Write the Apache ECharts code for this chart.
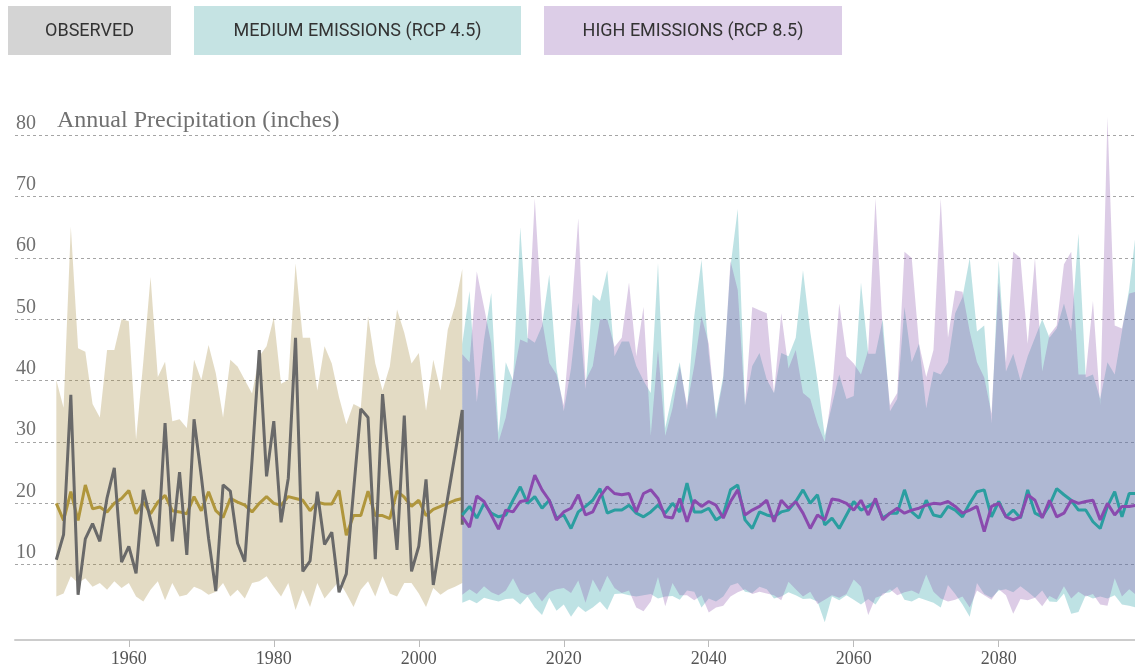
<!DOCTYPE html>
<html>
<head>
<meta charset="utf-8">
<script src="https://cdn.jsdelivr.net/npm/echarts@6/dist/echarts.min.js"></script>
<style>
html, body { margin: 0; padding: 0; background: #fff; }
#chart { width: 1135px; height: 670px; }
</style>
</head>
<body>
<div id="chart"></div>
<script>
// years
var histStart = 1950, histEnd = 2006;
var projStart = 2006, projEnd = 2099;
var xTicks = [1960, 1980, 2000, 2020, 2040, 2060, 2080];
var legendNames = ['OBSERVED', 'MEDIUM EMISSIONS (RCP 4.5)', 'HIGH EMISSIONS (RCP 8.5)'];

// observed + modeled history, 1950-2006
var observed = [10.8,14.9,37.7,5.1,14.2,16.7,13.8,20.9,25.8,10.4,
  13,8.6,22.2,17.3,13,33.1,13.8,25.1,11.6,33.7,
  24.4,14.3,5.7,23,22,13.5,10.5,27,45,24.4,
  33.4,16.9,24.1,47,8.9,10.6,21.9,13.3,15.3,5.5,
  8.5,22,35.4,34,10.9,37.8,24.6,12.4,34.3,8.9,
  13,23.9,6.7,14,21,28,35.2];
var observedLast = 16.5;   // drop drawn at the end of the record
var histMedian = [20,17.2,21.9,17.2,23,19.1,19.4,18.6,20,20.8,
  22.1,18.3,20.2,18.3,20.2,21.3,18.8,18.6,18.3,21.1,
  18.8,21.9,18.8,17.7,20.8,20.2,19.7,18.6,20,21.1,
  20,19.7,21.1,20.8,20.5,18.8,20.2,19.9,19.9,22.1,
  14.8,18,18,22,18,18,17.5,22,21,19.5,
  20.5,18,19,19.5,20,20.5,20.8];
var histMax = [40.1,35.6,65.1,45.3,44.7,36.2,34,45,45,50,
  49.7,30.4,43.1,56.9,40.6,43.1,33.4,33.7,32.3,43.4,
  40.1,45.8,41.2,34,43.4,42.3,40.1,37.9,44,45.6,
  50.3,39.5,40.1,59.1,47,47,38.4,45.6,42.8,37.3,
  32.9,36.2,35.6,50.5,42.8,38.4,42.3,51.6,47.8,42.8,
  44.5,35.1,43.4,38.4,48.3,52.2,58.2];
var histMin = [4.8,5.3,8.1,7,7.8,6.4,7,5.9,7.3,6.2,
  7,4.8,4,5.9,7.3,4.2,7,4.8,5.1,6.4,
  5.9,5.1,5.6,7,4.8,5.9,4.5,7,7.3,8.1,
  6.4,4.8,7,2.6,5.9,3.1,7,4.5,5.9,7.3,
  5.3,3.1,5.9,7.3,4.8,8.1,5.3,4.8,7,7,
  5.3,3.1,6.2,5.1,5.9,6.4,7];

// projections, 2006-2099
var rcp45Median = [18.1,19.5,17.6,20,18.4,17.8,18.1,20.5,22.7,20,
  21.1,19.2,20.5,17.6,18.1,15.9,18.6,19.5,20.5,22.4,
  18.4,18.9,18.9,19.7,18.4,17.8,18.6,19.7,18.4,20,
  18.6,23.3,18.6,18.6,19.2,17.3,18.1,22.2,23,17.3,
  15.9,18.6,18.1,17.8,
  18.6,18.9,20.3,22.2,20,21.4,16.5,17.6,15.9,18.1,
  20.3,18.9,19.5,20.3,17.6,18.4,18.4,22.2,18.6,17.6,
  20.5,18.1,17.8,19.5,18.9,17.8,20,21.9,22.2,17.8,
  20.3,17.8,18.9,17.6,22.2,18.4,17.8,19.7,22.4,21.4,
  20.5,18.9,18.9,17,15.9,19.5,21.9,17.8,21.6,21.6];
var rcp85Median = [17.8,16.1,21.2,20.3,18.1,15.8,18.9,18.6,20.3,20.5,
  24.6,22.2,20.5,17.3,18.6,19.2,21.4,18.1,18.6,21.1,
  22.7,21.6,21.4,21.6,18.6,21.6,22.2,20.8,17.8,17.6,
  20.8,17,20.5,19.5,20.3,19.7,17.6,20.3,22.2,18.1,
  18.9,19.5,20.5,17,
  20.5,19.2,20.3,18.4,15.9,18.1,17.3,20.7,20.5,20,
  18.9,20.5,18.1,20.8,17.3,18.4,19.2,18.4,18.9,19.2,
  19.7,20,19.9,20.3,19.5,18.4,18.9,19.5,15.4,19.5,
  20,17.8,17.3,17.8,21.4,20.5,17.6,20.5,17.8,18.4,
  20.5,20,20.3,20.5,17.3,20,18.1,19.5,19.5,19.7];
var rcp45Max = [46,54.6,36.5,46.7,54.3,31.5,43,40,65,47,
  46.2,48.9,57.3,42,35,42,52.7,38.6,54,53,
  58,44,46.4,46.4,42.4,40,38,59.2,32.3,38,
  43,35.3,50.5,59.7,44.4,34.5,40.7,58.6,68,36,
  42.4,44.5,40.2,38,44.5,
  44,47,58,48,40,31,36,41,37,37.5,
  56,44.4,44.4,50,35,37,52,43,46,35.5,
  41.5,41,43,51,53.6,60,48,49,33,59.6,
  41.5,44.4,40,44,47,50,47,48.5,52.6,48,
  64,40.5,41,37,43,41,48,55,65];
var rcp85Max = [44.3,43,57.8,52,46,30,34,40.5,46.7,46.2,
  69.7,50,42.9,41,36,50,66.5,40,42.4,50,
  50,45.5,47,56,44,52,31,45,31,35.5,
  42.4,36,42.4,50.5,46,33.7,40.2,59.5,54.8,35.9,
  52,51.5,51,37.9,51,
  42,45,38,37,33,30,38,52.6,44,42.8,
  41,45,69.7,48,36,38,61,60,46,40.6,
  45,69.7,47,54.7,54.5,48,43,40.5,34.6,56,
  43,61,60,46,60,41.5,47.5,49,59,61,
  41,41,53,36,83,49,48.5,54.2,54.5];
var rcp45Min = [3.8,4.3,3.7,4.6,4.3,4.0,4.4,4.5,3.5,4.8,
  3.0,1.8,4.6,2.5,3.5,1.5,3.2,2.3,3.0,4.0,
  2.6,5.2,5.3,5.0,4.8,5.0,5.2,4.5,4.8,4.9,
  4.3,5.8,5.6,3.0,4.5,4.0,4.8,6.6,7.0,5.6,
  5.4,6.4,6.0,4.5,4.8,
  5.5,5.0,4.4,4.5,4.0,0.6,4.8,4.2,5.0,4.3,
  3.5,4.4,3.5,5.3,5.5,6.4,4.3,4.0,4.6,4.2,
  3.8,3.0,6.7,5.2,3.5,1.5,7.0,5.2,4.6,5.8,
  6.0,5.5,6.5,5.6,4.6,5.8,4.0,3.9,5.3,2.0,
  2.3,5.0,4.5,4.8,4.5,5.0,3.5,3.3,3.0];
var rcp85Min = [5.1,6.0,5.2,6.5,5.5,5.0,5.8,7.8,5.5,5.0,
  5.6,4.0,5.5,6.0,6.2,5.4,7.4,3.8,7.6,5.5,
  8.2,6.2,5.4,5.8,3.0,2.4,4.0,8.0,3.2,7.0,
  5.0,5.0,4.2,5.0,2.2,3.0,3.3,4.8,5.5,6.0,
  5.2,5.6,5.3,5.0,4.2,
  7.2,6.0,4.8,5.6,3.6,4.3,5.0,4.6,5.2,7.6,
  6.4,1.8,4.6,5.0,6.0,5.0,5.5,5.8,5.2,8.4,
  5.6,4.5,4.0,4.3,4.8,3.0,5.8,5.0,4.3,6.0,
  5.0,2.0,4.4,4.2,4.6,3.2,4.9,4.3,6.5,4.5,
  5.6,4.8,5.2,3.5,3.3,7.8,4.8,6.0,5.0];

var histYears = [];
for (var y = histStart; y <= histEnd; y++) histYears.push(y);
var projYears = [];
for (var y = projStart; y <= projEnd; y++) projYears.push(y);

function pairs(years, vals) {
    return years.map(function (yr, i) { return [yr, vals[i]]; });
}

// min-max range drawn as one polygon, points placed by the axes (api.coord)
function band(name, years, up, lo, fill) {
    return {
        name: name, type: 'custom', silent: true, clip: true,
        data: [[years[0], lo[0]]],
        renderItem: function (params, api) {
            var pts = [];
            for (var i = 0; i < years.length; i++) pts.push(api.coord([years[i], up[i]]));
            for (var j = years.length - 1; j >= 0; j--) pts.push(api.coord([years[j], lo[j]]));
            return { type: 'polygon', shape: { points: pts }, style: { fill: fill } };
        }
    };
}
function line(name, data, color) {
    return {
        name: name, type: 'line', data: data, showSymbol: false,
        lineStyle: { color: color, width: 3 }, itemStyle: { color: color }
    };
}

var chart = echarts.init(document.getElementById('chart'));

var series = [
    band('hist', histYears, histMax, histMin, 'rgba(162,135,58,0.3)'),
    band('rcp45', projYears, rcp45Max, rcp45Min, 'rgba(40,160,165,0.3)'),
    band('rcp85', projYears, rcp85Max, rcp85Min, 'rgba(138,85,172,0.3)'),
    line('Modeled history', pairs(histYears, histMedian), '#b0963c'),
    line('Observed', pairs(histYears, observed).concat([[histEnd, observedLast]]), '#696969'),
    line('RCP 4.5', pairs(projYears, rcp45Median), '#2b9ea0'),
    line('RCP 8.5', pairs(projYears, rcp85Median), '#8a4aae')
];

var legendBoxes = [
    { x: 8, w: 163, fill: '#d4d4d4' },
    { x: 194, w: 327, fill: '#c5e3e3' },
    { x: 544, w: 298, fill: '#dccde7' }
];
var graphics = [];
legendBoxes.forEach(function (b, i) {
    graphics.push({
        type: 'rect', left: b.x, top: 6, shape: { width: b.w, height: 49 },
        style: { fill: b.fill }, silent: true
    });
    graphics.push({
        type: 'text', x: b.x + b.w / 2, y: 31,
        style: {
            text: legendNames[i], fill: '#333', font: '18px Roboto',
            align: 'center', verticalAlign: 'middle'
        }, silent: true
    });
});
graphics.push({
    type: 'text', x: 57, y: 121,
    style: {
        text: 'Annual Precipitation (inches)', fill: '#707070',
        font: '24px "Liberation Serif"', verticalAlign: 'middle'
    }, silent: true
});

var option = {
    animation: false,
    grid: { left: 15, right: 0, top: 74, bottom: 44 },
    xAxis: {
        type: 'value',
        min: 1944.3,
        max: 2098.8,
        offset: 14,
        axisLine: { onZero: false, lineStyle: { color: '#cccccc', width: 2 } },
        axisTick: { customValues: xTicks, length: 7, lineStyle: { color: '#bbbbbb', width: 1 } },
        axisLabel: {
            customValues: xTicks, color: '#555', fontSize: 18,
            fontFamily: 'Liberation Serif', margin: 10,
            formatter: function (v) { return String(v); }
        },
        splitLine: { show: false }
    },
    yAxis: {
        type: 'value',
        min: 0,
        max: 90,
        interval: 10,
        axisLine: { show: false },
        axisTick: { show: false },
        axisLabel: {
            inside: true, margin: 1, verticalAlign: 'bottom',
            color: '#707070', fontSize: 20, fontFamily: 'Liberation Serif',
            padding: [0, 0, 2, 0],
            formatter: function (v) { return (v === 0 || v === 90) ? '' : v; }
        },
        splitLine: {
            show: true, showMinLine: false, showMaxLine: false,
            lineStyle: { color: '#a5a5a5', type: [3, 3], width: 1 }
        }
    },
    graphic: graphics,
    series: series
};
chart.setOption(option);
</script>
</body>
</html>
